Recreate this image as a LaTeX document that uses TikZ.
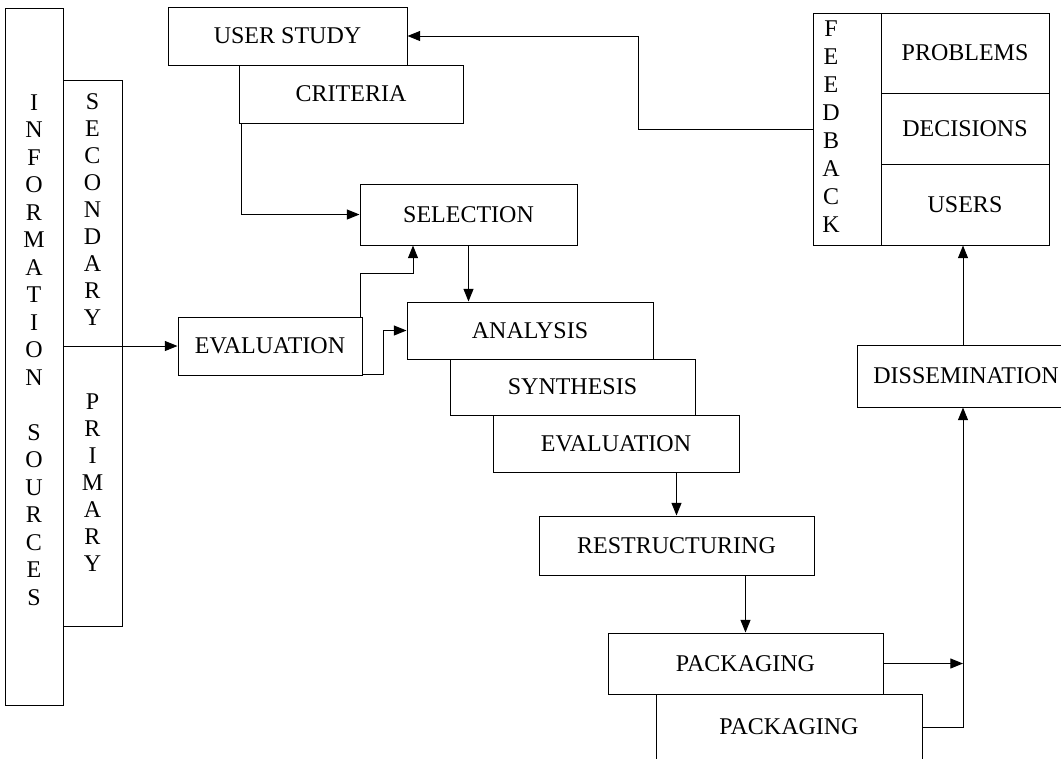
\documentclass[tikz,border=0pt]{standalone}
\usepackage{fontspec}
\setmainfont{Liberation Serif}
\usetikzlibrary{arrows.meta}
\begin{document}
\begin{tikzpicture}[x=0.75pt,y=-0.75pt,
  box/.style={draw, line width=0.75pt, inner sep=0pt, font=\fontsize{18}{21}\selectfont},
  col/.style={inner sep=0pt, align=center},
  arr/.style={draw, line width=0.75pt, -{Triangle[length=9.5pt,width=7.5pt]}},
  ln/.style={draw, line width=0.75pt}]
\useasboundingbox (0,0) rectangle (1061,758);

% left source columns
\node[box, minimum width=58*0.75pt, minimum height=697*0.75pt] (info) at (34,356.5) {};
\node[box, minimum width=59*0.75pt, minimum height=546*0.75pt] (sec) at (92.5,353) {};
\node[col, font=\fontsize{18}{20.625}\selectfont] (infotxt) at (34,350)
  {I\\N\\F\\O\\R\\M\\A\\T\\I\\O\\N\\[20.625pt]S\\O\\U\\R\\C\\E\\S};
\node[col, font=\fontsize{18}{20.25}\selectfont] (sectxt) at (92.5,210)
  {S\\E\\C\\O\\N\\D\\A\\R\\Y};
\node[col, font=\fontsize{18}{20.25}\selectfont] (primtxt) at (92.5,483)
  {P\\R\\I\\M\\A\\R\\Y};

% process boxes
\node[box, minimum width=239*0.75pt, minimum height=58*0.75pt] (userstudy) at (287.5,36) {USER STUDY};
\node[box, minimum width=224*0.75pt, minimum height=58*0.75pt] (criteria) at (351,94) {CRITERIA};
\node[box, minimum width=217*0.75pt, minimum height=61*0.75pt] (selection) at (468.5,214.5) {SELECTION};
\node[box, minimum width=184*0.75pt, minimum height=58*0.75pt] (evalA) at (270,346) {EVALUATION};
\node[box, minimum width=246*0.75pt, minimum height=57*0.75pt] (analysis) at (530,330.5) {ANALYSIS};
\node[box, minimum width=245*0.75pt, minimum height=56*0.75pt] (synthesis) at (572.5,387) {SYNTHESIS};
\node[box, minimum width=246*0.75pt, minimum height=57*0.75pt] (evalB) at (616,443.5) {EVALUATION};
\node[box, minimum width=275*0.75pt, minimum height=59*0.75pt] (restruct) at (676.5,545.5) {RESTRUCTURING};
\node[box, minimum width=275*0.75pt, minimum height=61*0.75pt] (packA) at (745.5,663.5) {PACKAGING};
\node[box, minimum width=266*0.75pt, minimum height=66*0.75pt] (packB) at (789,727) {PACKAGING};
\node[box, minimum width=218*0.75pt, minimum height=62*0.75pt] (dissem) at (966,376) {DISSEMINATION};

% feedback block
\node[box, minimum width=68*0.75pt, minimum height=232*0.75pt] (fbstrip) at (847,129) {};
\node[col, font=\fontsize{18}{21}\selectfont] (fbtxt) at (831,127)
  {F\\E\\E\\D\\B\\A\\C\\K};
\node[box, minimum width=168*0.75pt, minimum height=80*0.75pt] (problems) at (965,53) {PROBLEMS};
\node[box, minimum width=168*0.75pt, minimum height=71*0.75pt] (decisions) at (965,128.5) {DECISIONS};
\node[box, minimum width=168*0.75pt, minimum height=81*0.75pt] (users) at (965,204.5) {USERS};

% junction coordinates
\coordinate (j1) at (413,273);
\coordinate (j2) at (383,0);
\coordinate (j3) at (963,0);
\coordinate (j4) at (638,0);

% connectors
\draw[arr] (info.east |- evalA.west) -- (evalA.west);
\draw[arr] ([xshift=2.25pt]criteria.south west) |- (selection.west);
\draw[arr] ([xshift=-1.5pt]evalA.north east) |- (j1) -- (j1 |- selection.south);
\draw[arr] ([yshift=0.75pt]evalA.south east) -| (j2 |- analysis.west) -- (analysis.west);
\draw[arr] (selection.south) -- (selection.south |- analysis.north);
\draw[arr] (restruct.north |- evalB.south) -- (restruct.north);
\draw[arr] (packA.north |- restruct.south) -- (packA.north);
\draw[arr] (packA.east) -- (packA.east -| j3);
\draw[arr] (packB.east) -| (j3 |- dissem.south);
\draw[arr] (j3 |- dissem.north) -- (j3 |- users.south);
\draw[arr] (fbstrip.west) -| (j4 |- userstudy.east) -- (userstudy.east);
\end{tikzpicture}
\end{document}
